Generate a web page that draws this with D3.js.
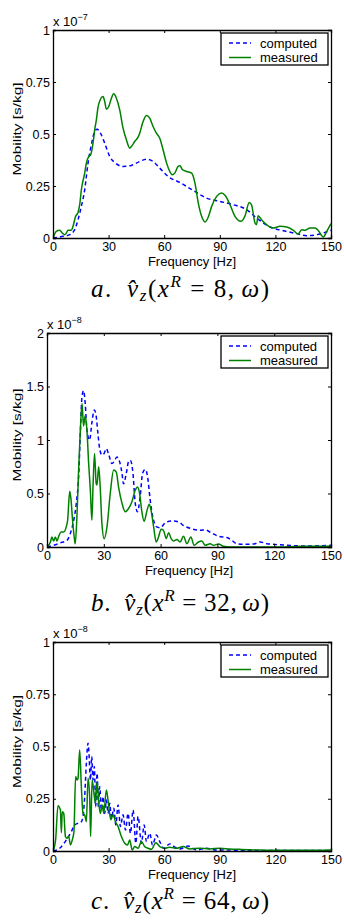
<!DOCTYPE html>
<html>
<head>
<meta charset="utf-8">
<script src="https://cdn.jsdelivr.net/npm/d3@7"></script>
<style>
  body { margin: 0; background: #fff; }
  text { font-family: "Liberation Sans", Arial, sans-serif; }
  .cap { font-family: "Liberation Serif", "DejaVu Serif", serif; }
</style>
</head>
<body>
<div id="chart"></div>
<script>
// frequency ticks shared by all three panels
const freqTicks = [0, 30, 60, 90, 120, 150];

// panel a: x^R = 8, values in units of 1e-7 s/kg
const aTicks = [0, 0.25, 0.5, 0.75, 1];
const aComputed = [[0,0],[5.4,0.008],[9,0.016],[11.7,0.04],[13.5,0.088],[15.3,0.152],[17.1,0.232],[18.9,0.36],[20.7,0.448],[22.5,0.512],[23.8,0.523],[25.6,0.504],[27.9,0.456],[30.6,0.392],[33.3,0.363],[37.8,0.344],[42.3,0.349],[46.8,0.368],[50.4,0.379],[54,0.368],[57.6,0.336],[62.1,0.296],[68.4,0.267],[75.6,0.229],[82.8,0.192],[90,0.176],[97.3,0.16],[104.5,0.136],[109.9,0.096],[117.1,0.053],[124.3,0.035],[131.5,0.021],[136.9,0.011],[142.3,0.016],[150,0.037]];
const aMeasured = [[0,0],[1.8,0.032],[3.6,0.037],[5,0.024],[6.3,0.016],[7.2,0.024],[8.1,0.037],[9.9,0.037],[10.8,0.056],[12.2,0.104],[13.5,0.123],[14.4,0.16],[15.3,0.232],[17.1,0.312],[18,0.36],[19.3,0.392],[20.3,0.4],[21.6,0.456],[22.5,0.52],[23.4,0.568],[24.3,0.629],[25.6,0.667],[27,0.68],[27.9,0.656],[28.8,0.619],[30.1,0.632],[31.2,0.664],[32.8,0.693],[34.2,0.672],[36,0.616],[37.8,0.528],[39.6,0.472],[41.4,0.432],[42.3,0.44],[44.1,0.464],[45.9,0.485],[46.8,0.504],[48.6,0.56],[50.4,0.589],[52.2,0.576],[54,0.536],[55.8,0.504],[57.6,0.48],[59.4,0.424],[61.3,0.36],[63,0.32],[64.3,0.304],[65.7,0.312],[67.5,0.344],[68.5,0.347],[69.9,0.328],[72.1,0.32],[74.8,0.312],[76.6,0.264],[78.4,0.168],[80.2,0.104],[82,0.077],[83.8,0.101],[85.6,0.152],[88.3,0.2],[91,0.216],[92.8,0.205],[95.5,0.16],[98.2,0.104],[101.4,0.08],[103.5,0.104],[105.9,0.171],[107.1,0.16],[109,0.072],[109.8,0.064],[110.7,0.107],[112.5,0.088],[115.2,0.064],[118.8,0.048],[122.5,0.056],[126.1,0.053],[129.7,0.037],[132.3,0.019],[134.1,0.04],[135.9,0.037],[138.7,0.048],[141.4,0.048],[143.2,0.035],[145.9,0.005],[147.7,0.032],[150,0.069]];

// panel b: x^R = 32, values in units of 1e-8 s/kg
const bTicks = [0, 0.5, 1, 1.5, 2];
const bComputed = [[0,0],[3.5,0.016],[7,0.038],[10.6,0.063],[12.3,0.125],[14.1,0.25],[15.5,0.41],[16.7,0.66],[17.6,1.06],[18.5,1.41],[19.3,1.46],[20.2,1.34],[21.1,1.09],[22.5,1.0],[23.7,1.16],[25,1.28],[26,1.22],[26.9,1.06],[27.8,0.92],[29,0.86],[30.2,0.875],[31.3,0.92],[32.5,0.87],[34.3,0.78],[35.5,0.8],[36.9,0.84],[38.3,0.8],[39.6,0.69],[40.4,0.59],[41.9,0.69],[43.1,0.8],[44,0.81],[45.4,0.69],[46.6,0.41],[47.8,0.33],[49.2,0.47],[50.5,0.69],[51.9,0.725],[53.1,0.66],[54.5,0.44],[55.9,0.28],[57.7,0.19],[59.8,0.18],[62.4,0.225],[65.9,0.244],[69.5,0.234],[72.1,0.2],[76.5,0.17],[80.9,0.156],[83.5,0.16],[87,0.13],[90.6,0.1],[95,0.088],[97.6,0.063],[100.2,0.031],[105.5,0.025],[109.9,0.031],[112.5,0.047],[116.1,0.031],[119.6,0.025],[126.6,0.016],[137.2,0.009],[150,0.016]];
const bMeasured = [[0,0],[1.8,0.047],[2.6,0.094],[3.5,0.056],[4.4,0.094],[5.3,0.056],[6.2,0.1],[7.4,0.14],[8.8,0.14],[10.2,0.19],[10.9,0.25],[12,0.52],[12.7,0.44],[13.5,0.25],[14.4,0.09],[14.9,0.03],[15.8,0.28],[16.7,0.72],[17.6,1.09],[18.5,1.34],[19.3,1.13],[20.2,1.23],[21.1,1.09],[22,0.78],[22.9,0.53],[23.7,0.25],[24.3,0.56],[25.1,0.875],[26,0.59],[26.4,0.58],[27.3,0.75],[28.1,0.56],[29,0.22],[30.2,0.078],[31.7,0.19],[33.4,0.5],[35.2,0.72],[36.6,0.7],[37.8,0.56],[39.6,0.41],[41.3,0.33],[43.1,0.36],[44.8,0.42],[46.6,0.53],[47.8,0.56],[48.9,0.5],[50.1,0.33],[51.3,0.24],[52.8,0.34],[54,0.4],[55,0.34],[56.3,0.19],[57.7,0.047],[58.9,0.094],[60.3,0.166],[61.5,0.156],[63,0.078],[64.2,0.134],[65.6,0.078],[66.8,0.056],[68.6,0.069],[70.3,0.047],[72.1,0.1],[73.9,0.031],[76,0.094],[77.7,0.016],[80,0.047],[81.8,0.056],[83.5,0.016],[86.2,0.031],[87.9,0.016],[90.6,0.028],[93.2,0.006],[96.7,0],[102,0],[119.6,0],[137,0.006],[150,0.006]];

// panel c: x^R = 64, values in units of 1e-8 s/kg
const cTicks = [0, 0.25, 0.5, 0.75, 1];
const cComputed = [[0,0],[3.6,0.013],[7.2,0.053],[9.9,0.093],[11.7,0.125],[13.5,0.133],[15.3,0.14],[16.2,0.165],[17.1,0.26],[18,0.42],[18.9,0.516],[19.4,0.468],[20.2,0.34],[20.9,0.452],[21.6,0.34],[22.3,0.404],[23,0.212],[23.8,0.372],[24.5,0.212],[25.2,0.308],[26.1,0.196],[27,0.26],[27.9,0.18],[28.8,0.244],[29.7,0.18],[30.6,0.228],[31.5,0.157],[32.8,0.204],[33.9,0.125],[35.1,0.22],[36.4,0.117],[37.8,0.173],[39.1,0.1],[40.5,0.18],[41.8,0.085],[43.2,0.196],[44.7,0.037],[45.9,0.165],[47.7,0.037],[49.2,0.125],[50.4,0.045],[52.2,0.085],[53.7,0.029],[55.8,0.077],[57.6,0.045],[59.8,0.013],[63,0.034],[64.8,0.024],[68.4,0.01],[72.9,0.024],[77.5,0.005],[82.8,0.013],[88.2,0.005],[93.6,0.005],[100.8,0.002],[118.8,0.002],[150,0.002]];
const cMeasured = [[0,0],[1.4,0.053],[2.7,0.217],[4,0.196],[4.5,0.088],[5,0.188],[5.8,0.18],[6.7,0.069],[7.6,0.061],[8.5,0.069],[9.4,0.029],[10.4,0.053],[11.3,0.093],[12.2,0.356],[13,0.34],[13.5,0.348],[14.4,0.484],[15.3,0.308],[16.2,0.18],[17.1,0.173],[18,0.14],[18.9,0.348],[19.8,0.252],[20.3,0.069],[21.1,0.34],[22,0.284],[22.9,0.228],[23.8,0.332],[24.7,0.228],[25.6,0.18],[26.5,0.22],[27.4,0.18],[28.8,0.292],[30.1,0.212],[31.2,0.149],[32.4,0.173],[33.7,0.14],[35.1,0.117],[36.9,0.069],[38.7,0.037],[40.2,0.029],[41.4,0.053],[42.7,0.005],[44.1,0.021],[45.9,0.013],[47.7,0.045],[49.5,0.021],[51.3,0.013],[53.1,0.008],[55.5,0.04],[57.6,0.021],[60.3,0.013],[63,0.018],[66.6,0.013],[70.2,0.021],[73.8,0.01],[79.2,0.013],[84.6,0.01],[90,0.013],[95.4,0.01],[100.8,0.008],[109.8,0.005],[118.8,0.003],[136.8,0.003],[150,0.005]];

const seriesNames = ['computed', 'measured'];
const exponents = ['\u22127', '\u22128', '\u22128'];
const captionLetters = ['a', 'b', 'c'];
const captionPositions = ['8', '32', '64'];

const W = 344, H = 920;
const svg = d3.select('#chart').append('svg')
  .attr('width', W)
  .attr('height', H)
  .style('background-color', 'white');

const panels = [
  { left: 53, right: 331, top: 30, bottom: 238, ticks: aTicks, computed: aComputed, measured: aMeasured, capY: 297 },
  { left: 47, right: 331, top: 333, bottom: 547, ticks: bTicks, computed: bComputed, measured: bMeasured, capY: 611 },
  { left: 53, right: 331, top: 642, bottom: 851, ticks: cTicks, computed: cComputed, measured: cMeasured, capY: 909 }
];

const fmt = v => String(v);

panels.forEach((p, i) => {
  const x = d3.scaleLinear().domain([0, 150]).range([p.left, p.right]);
  const y = d3.scaleLinear().domain([0, d3.max(p.ticks)]).range([p.bottom, p.top]);
  const g = svg.append('g');

  // data lines, clipped to the axes box
  const clipId = 'clip' + i;
  svg.append('clipPath').attr('id', clipId)
    .append('rect')
    .attr('x', p.left).attr('y', p.top)
    .attr('width', p.right - p.left).attr('height', p.bottom - p.top);

  const lineGen = d3.line().x(d => x(d[0])).y(d => y(d[1])).curve(d3.curveMonotoneX);

  g.append('path')
    .attr('clip-path', `url(#${clipId})`)
    .attr('d', lineGen(p.computed))
    .attr('fill', 'none')
    .style('stroke', '#0000ff')
    .style('stroke-width', 1.5)
    .style('stroke-dasharray', '4,3');

  g.append('path')
    .attr('clip-path', `url(#${clipId})`)
    .attr('d', lineGen(p.measured))
    .attr('fill', 'none')
    .style('stroke', '#008000')
    .style('stroke-width', 1.5);

  // axes: bottom/left with labels, top/right ticks only (inward ticks)
  const tl = 3;
  const xb = g.append('g').attr('transform', `translate(0,${p.bottom})`)
    .call(d3.axisBottom(x).tickValues(freqTicks).tickSize(-tl).tickPadding(4).tickFormat(fmt));
  const xt = g.append('g').attr('transform', `translate(0,${p.top})`)
    .call(d3.axisTop(x).tickValues(freqTicks).tickSize(-tl).tickFormat(''));
  const yl = g.append('g').attr('transform', `translate(${p.left},0)`)
    .call(d3.axisLeft(y).tickValues(p.ticks).tickSize(-tl).tickPadding(3).tickFormat(fmt));
  const yr = g.append('g').attr('transform', `translate(${p.right},0)`)
    .call(d3.axisRight(y).tickValues(p.ticks).tickSize(-tl).tickFormat(''));

  [xb, xt, yl, yr].forEach(a => {
    a.select('.domain').attr('stroke', '#000').attr('stroke-width', 1.3);
    a.selectAll('.tick line').attr('stroke', '#000').attr('stroke-width', 1);
    a.selectAll('text').attr('fill', '#000').style('font-size', '12.5px')
      .style('font-family', '"Liberation Sans", Arial, sans-serif');
  });

  // exponent label
  const ex = g.append('text')
    .attr('x', p.left)
    .attr('y', p.top - 4)
    .style('font-size', '13px');
  ex.append('tspan').text('x 10');
  ex.append('tspan').attr('dy', -6).style('font-size', '9px').text(exponents[i]);

  // axis titles
  g.append('text')
    .attr('x', (p.left + p.right) / 2)
    .attr('y', p.bottom + 28)
    .attr('text-anchor', 'middle')
    .style('font-size', '13px')
    .text('Frequency [Hz]');

  const cy = (p.top + p.bottom) / 2 - 5;
  g.append('text')
    .attr('transform', `translate(21,${cy}) rotate(-90)`)
    .attr('text-anchor', 'middle')
    .attr('textLength', 93)
    .attr('lengthAdjust', 'spacingAndGlyphs')
    .style('font-size', '11.5px')
    .text('Mobility [s/kg]');

  // legend
  const lw = 107, lh = 32;
  const lx = p.right - 3 - lw, ly = p.top + 3;
  const leg = g.append('g').attr('transform', `translate(${lx},${ly})`);
  leg.append('rect')
    .attr('width', lw).attr('height', lh)
    .attr('fill', 'white')
    .attr('stroke', '#000').attr('stroke-width', 1.3);
  seriesNames.forEach((name, k) => {
    const yy = 10 + k * 14.5;
    leg.append('line')
      .attr('x1', 8).attr('x2', 30).attr('y1', yy).attr('y2', yy)
      .style('stroke', k === 0 ? '#0000ff' : '#008000')
      .style('stroke-width', 1.5)
      .style('stroke-dasharray', k === 0 ? '4,3' : null);
    leg.append('text')
      .attr('x', 39).attr('y', yy).attr('dy', '0.35em')
      .style('font-size', '13px')
      .text(name);
  });

  // caption, e.g. a. v̂_z(x^R = 8, ω)
  const cap = svg.append('text').attr('class', 'cap')
    .attr('x', 180).attr('y', p.capY)
    .attr('text-anchor', 'middle')
    .attr('textLength', 178)
    .attr('lengthAdjust', 'spacing')
    .style('font-size', '25px');
  cap.append('tspan').style('font-style', 'italic').text(captionLetters[i]);
  cap.append('tspan').text('.\u2002');
  cap.append('tspan').style('font-style', 'italic').text('v\u0302');
  cap.append('tspan').style('font-style', 'italic').style('font-size', '17px').attr('dy', 4).text('z');
  cap.append('tspan').attr('dy', -4).text('(');
  cap.append('tspan').style('font-style', 'italic').text('x');
  cap.append('tspan').style('font-style', 'italic').style('font-size', '17px').attr('dy', -10).text('R');
  cap.append('tspan').attr('dy', 10).text('\u2005=\u2005' + captionPositions[i] + ',\u2006');
  cap.append('tspan').style('font-style', 'italic').text('\u03c9');
  cap.append('tspan').text(')');
});
</script>
</body>
</html>
